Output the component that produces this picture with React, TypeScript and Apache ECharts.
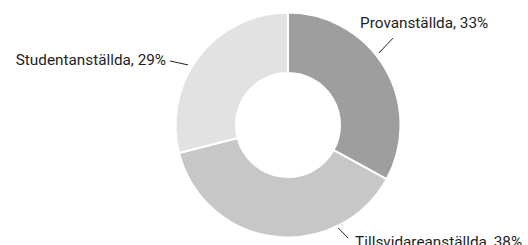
import React, { useEffect, useRef } from "react";
import * as echarts from "echarts";

const categories = ["Provanställda", "Tillsvidareanställda", "Studentanställda"];
const values = [33, 38, 29];
const colors = ["#9d9e9d", "#c6c7c6", "#e1e2e1"];

const CX = 288;
const CY = 125;
const R_OUT = 112.5;
const R_IN = 52;

// label line layout: polar start/end, text offset relative to line end
const LABEL_GEOM = [
  { a0: 51.6, r0: 116, a1: 50.4, r1: 136.4, dx: -33, dy: -15, align: "left" },
  { a0: 154, r0: 114.5, a1: 152, r1: 128, dx: 7, dy: 4, align: "left" },
  { a0: 301, r0: 116.6, a1: 298.5, r1: 134.2, dx: -4, dy: -1, align: "right" },
];

function polar(a: number, r: number): number[] {
  const rad = (a * Math.PI) / 180;
  return [CX + r * Math.sin(rad), CY - r * Math.cos(rad)];
}

export default function App() {
  const ref = useRef<HTMLDivElement>(null);
  useEffect(() => {
    document.body.style.margin = "0";
    const chart = echarts.init(ref.current!, null, { renderer: "svg" });
    chart.setOption({
      animation: false,
      backgroundColor: "#ffffff",
      series: [
        {
          type: "pie",
          center: [CX, CY],
          radius: [R_IN, R_OUT],
          startAngle: 90,
          clockwise: true,
          silent: true,
          itemStyle: { borderColor: "#ffffff", borderWidth: 2 },
          label: {
            show: true,
            position: "outside",
            formatter: (p: any) => `${p.name}, ${p.value}%`,
            fontFamily: "Roboto, Liberation Sans, Arial, sans-serif",
            fontSize: 15.3,
            color: "#1e1e1e",
            overflow: "none",
          },
          labelLine: {
            show: true,
            length: 15,
            length2: 0,
            lineStyle: { color: "#222222", width: 1 },
          },
          labelLayout: (params: any) => {
            const g = LABEL_GEOM[params.dataIndex];
            const p0 = polar(g.a0, g.r0);
            const p1 = polar(g.a1, g.r1);
            return {
              x: p1[0] + g.dx,
              y: p1[1] + g.dy,
              align: g.align,
              verticalAlign: "middle",
              labelLinePoints: [p0, p1, p1],
            };
          },
          data: categories.map((name, i) => ({
            name,
            value: values[i],
            itemStyle: { color: colors[i] },
          })),
        },
      ],
    });
    return () => chart.dispose();
  }, []);
  return <div ref={ref} style={{ width: 528, height: 245 }} />;
}
